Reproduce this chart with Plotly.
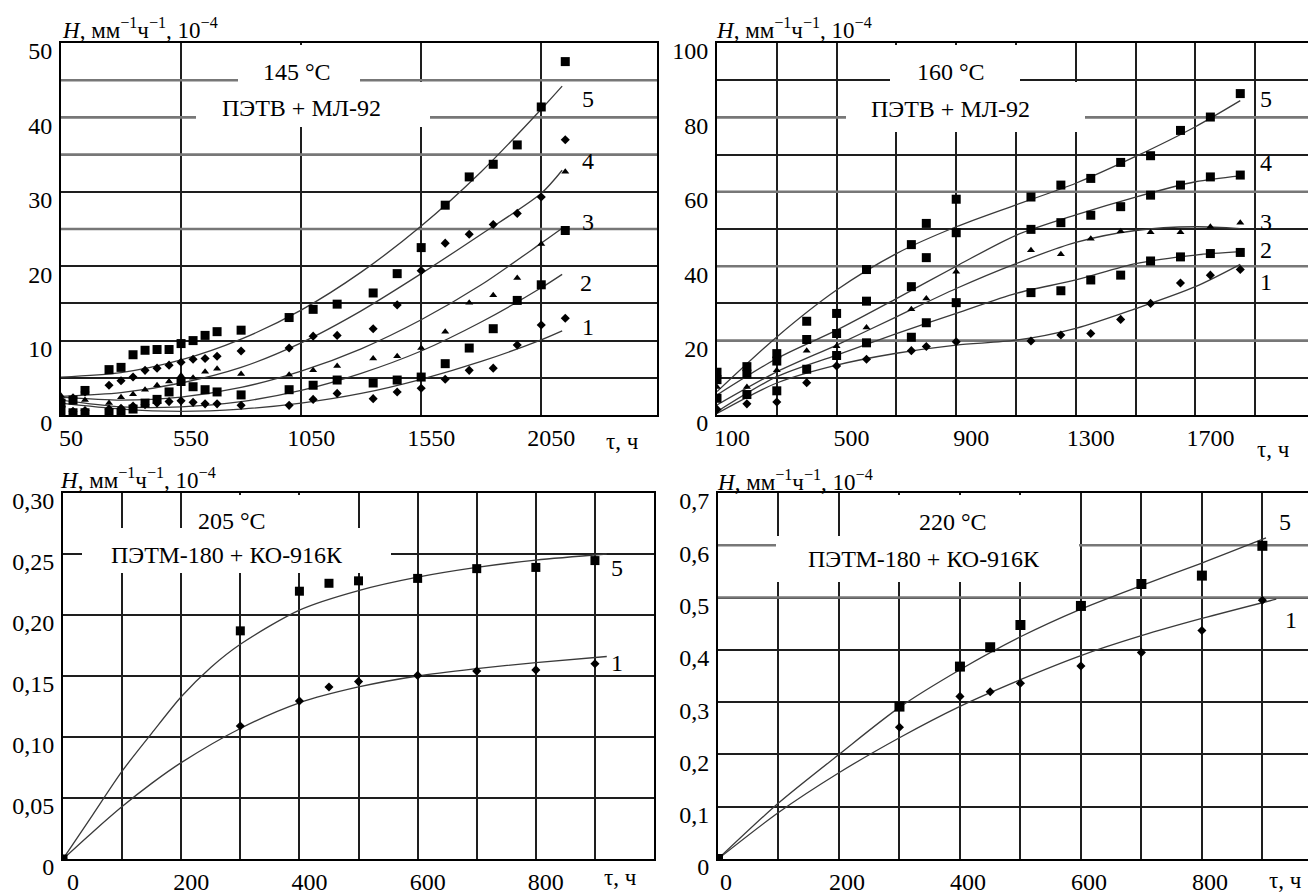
import plotly.graph_objects as go

# reference canvas (pixels) and the page offset of the plot inside the browser body
W, H = 1316, 895
OFF = 8
FW, FH = W - OFF, H - OFF
FONT = "Liberation Serif"

# ---------------- Panel 1: 145 °C, ПЭТВ + МЛ-92 ----------------
P1_T = [50, 100, 150, 250, 300, 350, 400, 450, 500, 550, 600, 650, 700, 800,
        1000, 1100, 1200, 1350, 1450, 1550, 1650, 1750, 1850, 1950, 2050, 2150]
P1_S5 = [1.6, 2.0, 3.3, 6.1, 6.4, 8.1, 8.7, 8.8, 8.8, 9.6, 10.0, 10.7, 11.2, 11.4,
         13.1, 14.2, 14.9, 16.4, 19.0, 22.5, 28.2, 32.0, 33.7, 36.3, 41.4, 47.5]
P1_S4 = [2.0, 2.3, 3.1, 4.0, 4.6, 5.1, 6.0, 6.3, 6.7, 7.1, 7.5, 7.6, 7.9, 8.6,
         9.0, 10.6, 10.7, 11.6, 14.8, 19.4, 23.1, 24.3, 25.6, 27.1, 29.3, 37.0]
P1_S3 = [2.6, 2.2, 2.0, 1.6, 2.4, 2.8, 3.4, 4.0, 4.5, 5.3, 5.0, 5.8, 6.2, 5.5,
         5.4, 6.0, 6.6, 7.6, 7.9, 9.0, 11.2, 15.1, 16.1, 18.4, 23.0, 32.7]
P1_S2 = [0.6, 0.3, 0.3, 0.3, 0.3, 0.8, 1.6, 2.1, 3.1, 4.5, 3.8, 3.4, 3.1, 2.7,
         3.4, 4.0, 4.7, 4.3, 4.7, 5.1, 6.9, 9.0, 11.6, 15.4, 17.5, 24.8]
P1_S1 = [1.2, 0.5, 0.6, 0.8, 0.9, 1.2, 1.4, 1.6, 1.8, 1.9, 1.7, 1.5, 1.5, 1.3,
         1.3, 2.1, 2.9, 2.2, 3.1, 3.6, 4.8, 6.0, 6.3, 9.4, 12.1, 13.0]
P1_CT = [50, 300, 550, 800, 1050, 1300, 1550, 1800, 2050, 2137]
P1_C5 = [5.1, 5.7, 7.4, 10.2, 14.1, 19.2, 25.4, 32.7, 41.1, 44.2]
P1_C4 = [2.5, 3.0, 4.3, 6.4, 9.7, 14.0, 19.0, 24.3, 29.8, 32.9]
P1_C3 = [2.4, 2.0, 2.4, 3.7, 5.9, 8.9, 12.8, 17.5, 23.1, 25.1]
P1_C2 = [2.0, 1.1, 1.1, 1.8, 3.3, 5.6, 8.6, 12.5, 17.1, 18.9]
P1_C1 = [1.6, 0.8, 0.5, 0.8, 1.6, 2.9, 4.8, 7.2, 10.1, 11.3]
P1_XRANGE = [50, 2532]
P1_YRANGE = [0, 50]
P1_XTICK0, P1_XDTICK = 50, 500
P1_YTICK0, P1_YDTICK = 0, 5
P1_GRAY_Y = [25, 35, 40, 45]

# ---------------- Panel 2: 160 °C, ПЭТВ + МЛ-92 ----------------
P2_T = [100, 200, 300, 400, 500, 600, 750, 800, 900, 1150, 1250, 1350, 1450,
        1550, 1650, 1750, 1850]
P2_S5 = [11.5, 13.0, 16.5, 25.2, 27.3, 39.1, 45.8, 51.5, 58.0, 58.6, 61.8, 63.6,
         67.9, 69.7, 76.5, 80.1, 86.4]
P2_S4 = [9.5, 11.0, 14.5, 20.3, 21.9, 30.6, 34.5, 42.3, 49.0, 49.9, 51.7, 53.7,
         56.0, 59.1, 61.8, 64.0, 64.5]
P2_S3 = [7.5, 7.5, 12.0, 17.3, 18.5, 23.5, 28.4, 31.3, 38.5, 44.3, 43.2, 47.4,
         49.4, 49.1, 49.1, 50.6, 51.7]
P2_S2 = [4.5, 5.5, 6.5, 12.3, 16.0, 19.4, 20.9, 24.8, 30.2, 32.9, 33.4, 36.3,
         37.6, 41.4, 42.5, 43.4, 43.7]
P2_S1 = [1.5, 3.0, 3.5, 8.7, 13.2, 15.0, 17.3, 18.4, 19.7, 19.9, 21.5, 21.9,
         25.7, 30.0, 35.5, 37.6, 39.1]
P2_CT = [100, 300, 500, 700, 900, 1100, 1300, 1500, 1700, 1850]
P2_C5 = [6.3, 21.0, 33.6, 43.4, 50.6, 56.5, 62.3, 69.5, 77.5, 84.5]
P2_C4 = [5.4, 15.2, 22.8, 31.3, 40.0, 48.3, 53.8, 58.6, 62.7, 64.3]
P2_C3 = [2.7, 11.6, 18.8, 26.4, 34.0, 40.7, 46.4, 49.6, 50.6, 50.1]
P2_C2 = [0.9, 10.3, 16.1, 21.9, 27.3, 32.7, 36.3, 40.7, 43.0, 43.9]
P2_C1 = [0.4, 8.6, 13.4, 16.6, 18.8, 20.1, 23.3, 28.6, 34.5, 40.5]
P2_XRANGE = [100, 2099.9]
P2_YRANGE = [0, 100]
P2_XTICK0, P2_XDTICK = 100, 200
P2_YTICK0, P2_YDTICK = 0, 10
P2_GRAY_Y = [20, 40, 60, 80]

# ---------------- Panel 3: 205 °C, ПЭТМ-180 + КО-916К ----------------
P3_T = [0, 300, 400, 450, 500, 600, 700, 800, 900]
P3_S5 = [0.0, 0.187, 0.2195, 0.226, 0.228, 0.230, 0.238, 0.239, 0.2446]
P3_S1 = [0.0, 0.109, 0.1295, 0.141, 0.1454, 0.1505, 0.154, 0.155, 0.160]
P3_CT5 = [0, 50, 100, 150, 200, 250, 300, 400, 500, 600, 700, 800, 920]
P3_C5 = [0.0, 0.036, 0.072, 0.103, 0.133, 0.157, 0.176, 0.204, 0.220, 0.231,
         0.239, 0.245, 0.250]
P3_CT1 = [0, 50, 100, 150, 200, 300, 400, 500, 600, 700, 800, 920]
P3_C1 = [0.0, 0.022, 0.043, 0.062, 0.079, 0.107, 0.128, 0.141, 0.150, 0.156,
         0.161, 0.166]
P3_XRANGE = [0, 999.9]
P3_YRANGE = [0, 0.30]
P3_XTICK0, P3_XDTICK = 0, 100
P3_YTICKS = [0, 0.05, 0.10, 0.15, 0.20, 0.25, 0.30]
P3_YLABELS = ["0", "0,05", "0,10", "0,15", "0,20", "0,25", "0,30"]

# ---------------- Panel 4: 220 °C, ПЭТМ-180 + КО-916К ----------------
P4_T = [0, 300, 400, 450, 500, 600, 700, 800, 900]
P4_S5 = [0.0, 0.2915, 0.368, 0.405, 0.4475, 0.484, 0.526, 0.542, 0.599]
P4_S1 = [0.0, 0.252, 0.311, 0.320, 0.336, 0.369, 0.395, 0.437, 0.495]
P4_CT5 = [0, 100, 200, 300, 400, 500, 600, 700, 800, 906]
P4_C5 = [0.0, 0.107, 0.200, 0.290, 0.362, 0.425, 0.478, 0.523, 0.566, 0.614]
P4_CT1 = [0, 100, 200, 300, 400, 500, 600, 700, 800, 923]
P4_C1 = [0.0, 0.089, 0.165, 0.232, 0.292, 0.343, 0.389, 0.427, 0.460, 0.497]
P4_XRANGE = [0, 987]
P4_YRANGE = [0, 0.70]
P4_XTICK0, P4_XDTICK = 0, 100
P4_YTICKS = [0, 0.1, 0.2, 0.3, 0.4, 0.5, 0.6, 0.7]
P4_YLABELS = ["0", "0,1", "0,2", "0,3", "0,4", "0,5", "0,6", "0,7"]
P4_GRAY_Y = [0.5, 0.6]

Y_TITLE = "<i>H</i>, мм<sup>−1</sup>ч<sup>−1</sup>, 10<sup>−4</sup>"
X_TITLE = "τ, ч"


def fx(p):
    return (p - OFF) / FW


def fy(p):
    return 1 - (p - OFF) / FH


LINE = dict(color="#3a3a3a", width=1.3, shape="spline", smoothing=0.8)
GRAY = dict(color="#777777", width=2.6)
SQ = dict(symbol="square", size=9, color="black")
DI = dict(symbol="diamond", size=7, color="black")
TR = dict(symbol="triangle-up", size=7, color="black")

fig = go.Figure()


def gray_lines(ys, xr, ax):
    # greyish, thicker grid lines of the scanned original
    for v in ys:
        fig.add_trace(go.Scatter(x=xr, y=[v, v], mode="lines", line=GRAY,
                                 xaxis="x" + ax, yaxis="y" + ax, hoverinfo="skip"))


def curve(x, y, ax):
    fig.add_trace(go.Scatter(x=x, y=y, mode="lines", line=LINE,
                             xaxis="x" + ax, yaxis="y" + ax, hoverinfo="skip"))


def pts(x, y, mk, ax):
    fig.add_trace(go.Scatter(x=x, y=y, mode="markers", marker=mk,
                             xaxis="x" + ax, yaxis="y" + ax))


gray_lines(P1_GRAY_Y, P1_XRANGE, "")
gray_lines(P2_GRAY_Y, P2_XRANGE, "2")
gray_lines(P4_GRAY_Y, P4_XRANGE, "4")

# panel 1
for c in (P1_C5, P1_C4, P1_C3, P1_C2, P1_C1):
    curve(P1_CT, c, "")
pts(P1_T, P1_S5, SQ, "")
pts(P1_T, P1_S4, DI, "")
pts(P1_T, P1_S3, TR, "")
pts(P1_T, P1_S2, SQ, "")
pts(P1_T, P1_S1, DI, "")

# panel 2
for c in (P2_C5, P2_C4, P2_C3, P2_C2, P2_C1):
    curve(P2_CT, c, "2")
pts(P2_T, P2_S5, SQ, "2")
pts(P2_T, P2_S4, SQ, "2")
pts(P2_T, P2_S3, TR, "2")
pts(P2_T, P2_S2, SQ, "2")
pts(P2_T, P2_S1, DI, "2")

# panel 3
curve(P3_CT5, P3_C5, "3")
curve(P3_CT1, P3_C1, "3")
pts(P3_T, P3_S5, SQ, "3")
pts(P3_T, P3_S1, DI, "3")

# panel 4
curve(P4_CT5, P4_C5, "4")
curve(P4_CT1, P4_C1, "4")
pts(P4_T, P4_S5, dict(SQ, size=10), "4")
pts(P4_T, P4_S1, DI, "4")

COMMON = dict(showgrid=True, gridcolor="#1e1e1e", gridwidth=1.6,
              showline=True, linecolor="black", linewidth=2, mirror=True,
              zeroline=False, ticks="", automargin=False,
              tickfont=dict(family=FONT, size=24, color="black"))


def xax(dom, rng, anchor, tick0, dtick, step=1, shift=12):
    return dict(COMMON, domain=[fx(dom[0]), fx(dom[1])], range=rng, anchor=anchor,
                tickmode="linear", tick0=tick0, dtick=dtick, ticklabelstep=step,
                ticklabelstandoff=0, ticklabelshift=shift)


def yax(dom, rng, anchor, tick0=None, dtick=None, step=1, tv=None, tt=None):
    d = dict(COMMON, domain=[fy(dom[1]), fy(dom[0])], range=rng, anchor=anchor,
             ticklabelstandoff=2, ticklabelshift=8)
    if tv is not None:
        d.update(tickmode="array", tickvals=tv, ticktext=tt)
    else:
        d.update(tickmode="linear", tick0=tick0, dtick=dtick, ticklabelstep=step)
    return d


fig.update_layout(
    template="none",
    width=FW, height=FH, margin=dict(l=0, r=0, t=0, b=0, pad=0, autoexpand=False),
    paper_bgcolor="white", plot_bgcolor="white", showlegend=False,
    font=dict(family=FONT, color="black"),
    xaxis=xax((61, 657), P1_XRANGE, "y", P1_XTICK0, P1_XDTICK, 1, 10),
    yaxis=yax((43, 415), P1_YRANGE, "x", P1_YTICK0, P1_YDTICK, 2),
    xaxis2=xax((717, 1315), P2_XRANGE, "y2", P2_XTICK0, P2_XDTICK, 2, 15),
    yaxis2=yax((43, 415), P2_YRANGE, "x2", P2_YTICK0, P2_YDTICK, 2),
    xaxis3=xax((63, 654), P3_XRANGE, "y3", P3_XTICK0, P3_XDTICK, 2, 10),
    yaxis3=yax((493, 859), P3_YRANGE, "x3", tv=P3_YTICKS, tt=P3_YLABELS),
    xaxis4=xax((718, 1315), P4_XRANGE, "y4", P4_XTICK0, P4_XDTICK, 2, 8),
    yaxis4=yax((493, 859), P4_YRANGE, "x4", tv=P4_YTICKS, tt=P4_YLABELS),
)

# white boxes behind the panel captions (pixel rectangles)
BOXES = [(238, 45, 360, 90), (196, 82, 430, 127),
         (890, 45, 1020, 90), (846, 82, 1085, 132),
         (186, 495, 352, 530), (82, 528, 391, 573),
         (845, 495, 1077, 540), (776, 536, 1079, 582)]
for (x0, y0, x1, y1) in BOXES:
    fig.add_shape(type="rect", xref="paper", yref="paper",
                  x0=fx(x0), x1=fx(x1), y0=fy(y1), y1=fy(y0),
                  fillcolor="white", line=dict(width=0), layer="above")


def note(text, x, y, size=24, xanchor="center"):
    fig.add_annotation(text=text, xref="paper", yref="paper", x=fx(x), y=fy(y),
                       xanchor=xanchor, yanchor="middle", showarrow=False,
                       font=dict(family=FONT, size=size, color="black"))


# axis titles
for (x, y) in [(60, 29), (714, 29), (58, 478), (715, 480)]:
    note(Y_TITLE, x, y, size=23, xanchor="left")
for (x, y) in [(622, 441), (1273, 449), (620, 877), (1285, 880)]:
    note(X_TITLE, x, y, size=23)

# panel captions
note("145 °C", 297, 72)
note("ПЭТВ + МЛ-92", 301, 108)
note("160 °C", 951, 72)
note("ПЭТВ + МЛ-92", 950, 109)
note("205 °C", 232, 521)
note("ПЭТМ-180 + КО-916К", 227, 555)
note("220 °C", 953, 522)
note("ПЭТМ-180 + КО-916К", 924, 559)

# curve numbers
for (t, x, y) in [("5", 588, 99), ("4", 588, 161), ("3", 588, 222), ("2", 586, 283), ("1", 588, 327),
                  ("5", 1266, 99), ("4", 1266, 163), ("3", 1266, 222), ("2", 1266, 250), ("1", 1266, 282),
                  ("5", 617, 568), ("1", 617, 663),
                  ("5", 1285, 522), ("1", 1291, 620)]:
    note(t, x, y)

fig.write_html("out.html")
